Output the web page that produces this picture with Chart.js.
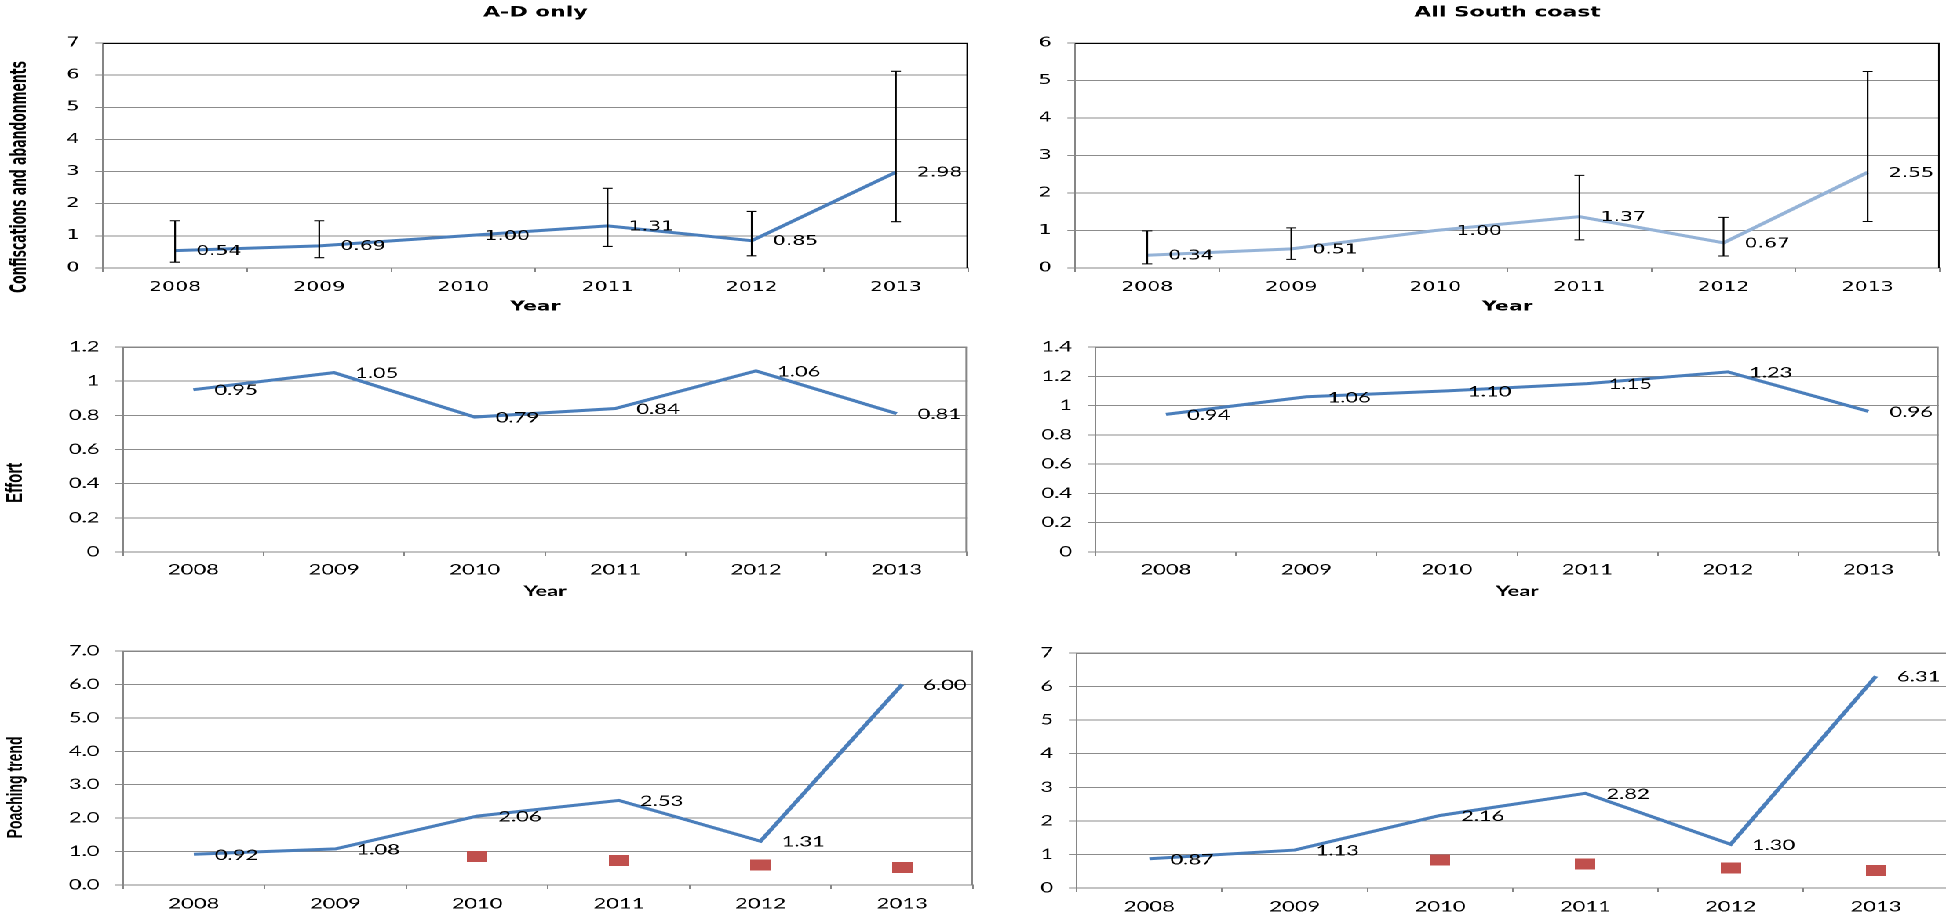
<!DOCTYPE html>
<html>
<head>
<meta charset="utf-8">
<script src="https://cdn.jsdelivr.net/npm/chart.js@4.4.1/dist/chart.umd.min.js"></script>
<style>
html, body { margin:0; padding:0; background:#fff; overflow:hidden; width:1946px; height:918px; }
#stage { position:absolute; left:0; top:0; width:1240px; height:918px; transform-origin:0 0; transform:scaleX(1.5693548); }
#stage canvas { position:absolute; }
</style>
</head>
<body>
<div id="stage"></div>
<script>
// ---------------- DATA ----------------
const years = ['2008', '2009', '2010', '2011', '2012', '2013'];

const confAD     = [0.54, 0.69, 1.00, 1.31, 0.85, 2.98];
const confADLow  = [0.18, 0.32, null, 0.67, 0.38, 1.44];
const confADHigh = [1.47, 1.47, null, 2.48, 1.76, 6.12];

const confSC     = [0.34, 0.51, 1.00, 1.37, 0.67, 2.55];
const confSCLow  = [0.11, 0.23, null, 0.75, 0.32, 1.24];
const confSCHigh = [0.99, 1.07, null, 2.47, 1.35, 5.24];

const effortAD = [0.95, 1.05, 0.79, 0.84, 1.06, 0.81];
const effortSC = [0.94, 1.06, 1.10, 1.15, 1.23, 0.96];

const poachAD        = [0.92, 1.08, 2.06, 2.53, 1.31, 6.00];
const poachADMarkers = [null, null, 0.85, 0.73, 0.60, 0.53];
const poachSC        = [0.87, 1.13, 2.16, 2.82, 1.30, 6.31];
const poachSCMarkers = [null, null, 0.83, 0.71, 0.59, 0.52];

const ticksConfAD   = ['0', '1', '2', '3', '4', '5', '6', '7'];
const ticksConfSC   = ['0', '1', '2', '3', '4', '5', '6'];
const ticksEffortAD = ['0', '0.2', '0.4', '0.6', '0.8', '1', '1.2'];
const ticksEffortSC = ['0', '0.2', '0.4', '0.6', '0.8', '1', '1.2', '1.4'];
const ticksPoachAD  = ['0.0', '1.0', '2.0', '3.0', '4.0', '5.0', '6.0', '7.0'];
const ticksPoachSC  = ['0', '1', '2', '3', '4', '5', '6', '7'];

const titleAD = 'A-D only';
const titleSC = 'All South coast';
const yTitleConf = 'Confiscations and abandonments';
const yTitleEffort = 'Effort';
const yTitlePoach = 'Poaching trend';
const xTitle = 'Year';

// ---------------- LAYOUT / STYLE ----------------
const S = 1946 / 1240;             // horizontal stretch of the reference
const stage = document.getElementById('stage');
const FONT_V = "'DejaVu Sans', Verdana, sans-serif";
const FONT_C = "Lato, 'Open Sans', sans-serif";
const FONT_A = "'Liberation Sans', Arial, sans-serif";
const FONT_N = "'Liberation Sans Narrow', 'Arial Narrow', 'DejaVu Sans Condensed', sans-serif";
const BLUE = '#4A7EBB';
const LIGHTBLUE = '#95B3D7';
const RED = '#C0504D';

const mctx = document.createElement('canvas').getContext('2d');
function measure(text, family, weight, size) {
  mctx.font = weight + ' ' + size + 'px ' + family;
  return mctx.measureText(text).width;
}

function redSquare() {
  const c = document.createElement('canvas');
  c.width = 13; c.height = 11;
  const g = c.getContext('2d');
  g.fillStyle = RED; g.fillRect(0, 0, 13, 11);
  return c;
}

const decoPlugin = {
  id: 'deco',
  beforeDatasetsDraw(chart, args, o) {
    const a = chart.chartArea, ctx = chart.ctx;
    ctx.save();
    ctx.strokeStyle = o.frameColor; ctx.lineWidth = 1;
    ctx.beginPath();
    ctx.moveTo(a.left, a.top + 0.5); ctx.lineTo(a.right, a.top + 0.5);
    ctx.moveTo(a.right - 0.5, a.top); ctx.lineTo(a.right - 0.5, a.bottom);
    ctx.stroke();
    ctx.restore();
  },
  afterDatasetsDraw(chart, args, o) {
    const ctx = chart.ctx, ys = chart.scales.y;
    const meta = chart.getDatasetMeta(0);
    const data = chart.data.datasets[0].data;
    if (o.low) {
      ctx.save();
      ctx.strokeStyle = '#000'; ctx.lineWidth = 1.1;
      meta.data.forEach((p, i) => {
        if (o.low[i] == null) return;
        const y1 = ys.getPixelForValue(o.low[i]);
        const y2 = ys.getPixelForValue(o.high[i]);
        ctx.beginPath();
        ctx.moveTo(p.x, y1); ctx.lineTo(p.x, y2);
        ctx.moveTo(p.x - 3.2, y1); ctx.lineTo(p.x + 3.2, y1);
        ctx.moveTo(p.x - 3.2, y2); ctx.lineTo(p.x + 3.2, y2);
        ctx.stroke();
      });
      ctx.restore();
    }
    ctx.save();
    ctx.font = o.labelFont; ctx.fillStyle = '#000';
    ctx.textAlign = 'left'; ctx.textBaseline = 'middle';
    meta.data.forEach((p, i) => ctx.fillText(data[i].toFixed(2), p.x + 13.4, p.y + 1));
    ctx.restore();
  }
};

function makePanel(cfg) {
  const cx0 = cfg.canvas[0] / S;
  const cy0 = cfg.canvas[1];
  const w = Math.round((cfg.canvas[2] - cfg.canvas[0]) / S);
  const h = Math.round(cfg.canvas[3] - cfg.canvas[1]);
  const pl = cfg.plot[0] / S - cx0;
  const pr = cfg.plot[2] / S - cx0;
  const pt = cfg.plot[1] - cy0;
  const pb = cfg.plot[3] - cy0;

  const cv = document.createElement('canvas');
  cv.width = w; cv.height = h;
  cv.style.left = cx0 + 'px'; cv.style.top = cy0 + 'px';
  cv.style.width = w + 'px'; cv.style.height = h + 'px';
  stage.appendChild(cv);

  const tf = cfg.tickFont;
  const datasets = [{
    data: cfg.values,
    borderColor: cfg.color, backgroundColor: cfg.color,
    borderWidth: 3, pointRadius: 0, pointHoverRadius: 0,
    tension: 0, fill: false
  }];
  if (cfg.markers) {
    datasets.push({
      data: cfg.markers, showLine: false,
      pointStyle: redSquare(), pointRadius: 6,
      backgroundColor: RED, borderColor: RED, borderWidth: 0
    });
  }

  let titleOpt = { display: false };
  let padTop = pt;
  if (cfg.title) {
    const lh = 14 * 1.2;
    const ptop = cfg.titleY - cy0 - lh / 2;
    titleOpt = {
      display: true, text: cfg.title, fullSize: false, color: '#000',
      font: { family: FONT_V, size: 14, weight: 'bold' },
      padding: { top: ptop, bottom: pt - ptop - lh }
    };
    padTop = 0;
  }

  let yTitleOpt = { display: false };
  if (cfg.yTitle) {
    const t = cfg.yTitle;
    const lh = t.size * 1.2;
    // the reference places the rotated title lower than the plot centre;
    // trailing spaces shift the centred text down by the needed amount
    const shift = t.cy - (cfg.plot[1] + cfg.plot[3]) / 2;
    const sp = measure(' ', t.family, 'bold', t.size);
    const n = Math.max(0, Math.round(2 * shift / sp));
    yTitleOpt = {
      display: true, text: t.text + ' '.repeat(n), color: '#000',
      font: { family: t.family, size: t.size, weight: 'bold' },
      padding: { top: t.cx / S - lh / 2, bottom: 0 }
    };
  }

  let xTitleOpt = { display: false };
  if (cfg.xTitle) {
    xTitleOpt = {
      display: true, text: xTitle, color: '#000',
      font: { family: cfg.xTitle.family, size: cfg.xTitle.size, weight: 'bold' },
      padding: { top: 0, bottom: 0 }
    };
  }

  new Chart(cv, {
    type: 'line',
    data: { labels: years, datasets },
    plugins: [decoPlugin],
    options: {
      responsive: false, animation: false, devicePixelRatio: 2, events: [],
      layout: { padding: { left: 0, right: w - pr, top: padTop, bottom: 0 } },
      plugins: {
        legend: { display: false },
        tooltip: { enabled: false },
        title: titleOpt,
        deco: { frameColor: cfg.frame, low: cfg.low, high: cfg.high, labelFont: cfg.labelFont }
      },
      scales: {
        x: {
          offset: true,
          ticks: { font: tf, color: '#000', padding: cfg.xPad, maxRotation: 0, autoSkip: false },
          grid: { offset: true, drawOnChartArea: false, drawTicks: true, tickLength: 4, color: '#868686' },
          border: { color: '#868686' },
          title: xTitleOpt,
          afterFit: s => { s.height = h - pb; }
        },
        y: {
          min: 0, max: cfg.yMax,
          ticks: { stepSize: cfg.yStep, font: tf, color: '#000', padding: 10,
                   callback: (v, i) => cfg.yTicks[i] },
          grid: { color: '#8c8c8c', drawTicks: true, tickLength: 5 },
          border: { color: '#868686' },
          title: yTitleOpt,
          afterFit: s => { s.width = pl; }
        }
      }
    }
  });
}

const tickTop = { family: FONT_V, size: 13 };
const tickLow = { family: FONT_C, size: 14 };
const confSize = Math.min(18, 18 * 232 / measure(yTitleConf, FONT_N, 'bold', 18));

makePanel({
  canvas: [0, 0, 1000, 315], plot: [103, 43, 968, 268],
  values: confAD, low: confADLow, high: confADHigh, color: BLUE,
  yMax: 7, yStep: 1, yTicks: ticksConfAD, tickFont: tickTop, xPad: 7.7,
  labelFont: '13px ' + FONT_V, frame: '#000',
  title: titleAD, titleY: 13,
  yTitle: { text: yTitleConf, family: FONT_N, size: confSize, cx: 20, cy: 176 },
  xTitle: { family: FONT_V, size: 13 }
});
makePanel({
  canvas: [1000, 0, 1960, 315], plot: [1075.5, 43, 1940, 268],
  values: confSC, low: confSCLow, high: confSCHigh, color: LIGHTBLUE,
  yMax: 6, yStep: 1, yTicks: ticksConfSC, tickFont: tickTop, xPad: 7.7,
  labelFont: '13px ' + FONT_V, frame: '#000',
  title: titleSC, titleY: 13,
  xTitle: { family: FONT_V, size: 13 }
});
makePanel({
  canvas: [0, 322, 1000, 600], plot: [123, 347, 967, 552],
  values: effortAD, color: BLUE,
  yMax: 1.2, yStep: 0.2, yTicks: ticksEffortAD, tickFont: tickLow, xPad: 5.6,
  labelFont: '14px ' + FONT_C, frame: '#868686',
  yTitle: { text: yTitleEffort, family: FONT_A, size: 15, cx: 15.5, cy: 482 },
  xTitle: { family: FONT_C, size: 14 }
});
makePanel({
  canvas: [1000, 322, 1960, 600], plot: [1096, 347, 1939, 552],
  values: effortSC, color: BLUE,
  yMax: 1.4, yStep: 0.2, yTicks: ticksEffortSC, tickFont: tickLow, xPad: 5.6,
  labelFont: '14px ' + FONT_C, frame: '#868686',
  xTitle: { family: FONT_C, size: 14 }
});
makePanel({
  canvas: [0, 610, 1000, 918], plot: [123, 651, 973, 885],
  values: poachAD, markers: poachADMarkers, color: BLUE,
  yMax: 7, yStep: 1, yTicks: ticksPoachAD, tickFont: tickLow, xPad: 6.6,
  labelFont: '14px ' + FONT_C, frame: '#868686',
  yTitle: { text: yTitlePoach, family: FONT_A, size: 14, cx: 16, cy: 787 }
});
makePanel({
  canvas: [1000, 610, 1960, 918], plot: [1077, 653, 1949, 888],
  values: poachSC, markers: poachSCMarkers, color: BLUE,
  yMax: 7, yStep: 1, yTicks: ticksPoachSC, tickFont: tickLow, xPad: 6.6,
  labelFont: '14px ' + FONT_C, frame: '#868686'
});
</script>
</body>
</html>
